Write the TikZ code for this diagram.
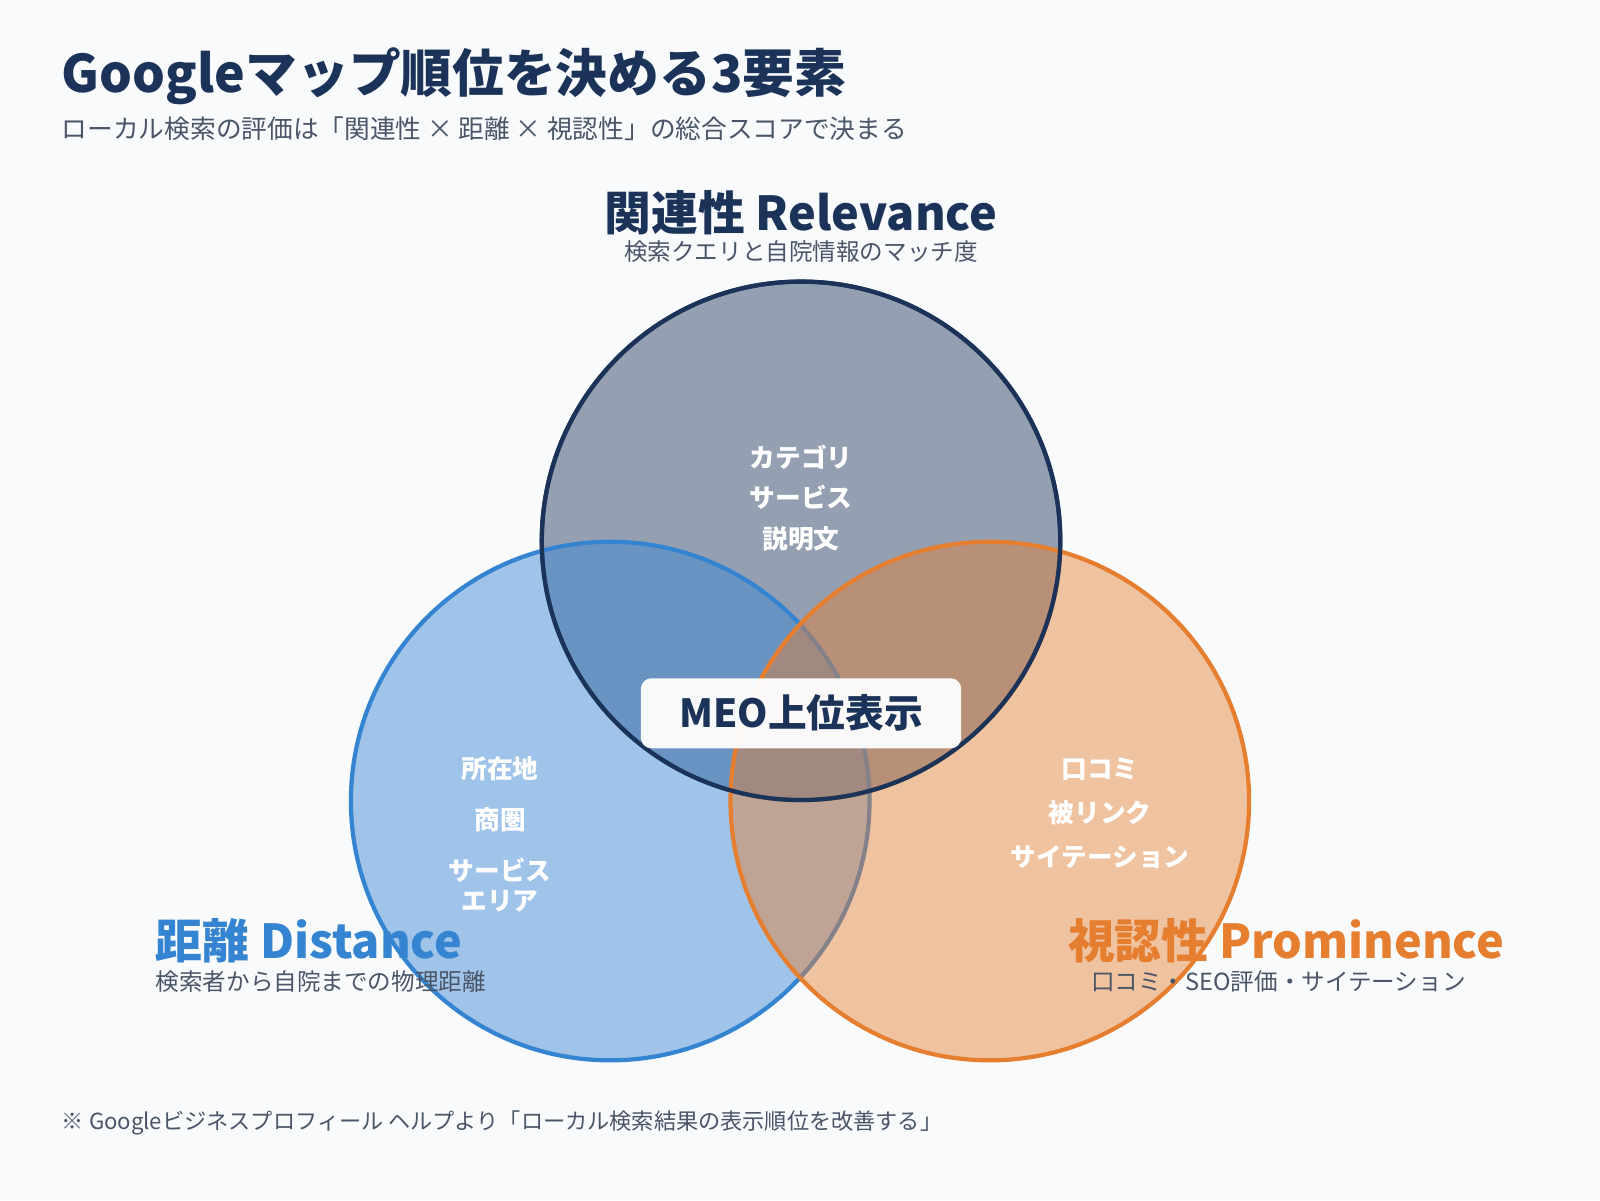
\documentclass[tikz,border=0pt]{standalone}
\usepackage{fontspec}
\setmainfont{Noto Sans CJK JP}
\usetikzlibrary{positioning}
\definecolor{navy}{HTML}{1B3358}
\definecolor{skyblue}{HTML}{3584D2}
\definecolor{orangeC}{HTML}{E67E30}
\definecolor{greytext}{HTML}{4A5568}
\definecolor{bgpaper}{HTML}{F8FAFC}
\tikzset{
    venn/.style={circle, minimum size=5.18cm, line width=1.2pt, fill opacity=0.45},
    headtxt/.style={font=\bfseries\fontsize{13.3}{15}\selectfont, inner sep=0pt},
    subtxt/.style={font=\fontsize{6.7}{8}\selectfont, text=greytext, inner sep=0pt},
    intxt/.style={font=\bfseries\fontsize{7.3}{11.5}\selectfont, text=white, align=center, inner sep=0pt}
}
\begin{document}
\begin{tikzpicture}[x=0.0102cm, y=-0.0102cm]
    \fill[bgpaper] (0,0) rectangle (1568,1176);
    \useasboundingbox (0,0) rectangle (1568,1176);
    % title
    \node[anchor=west, inner sep=0pt, text=navy, font=\bfseries\fontsize{14.7}{16}\selectfont] (title) at (60,75) {Googleマップ順位を決める3要素};
    \node[anchor=west, subtxt, font=\fontsize{7.3}{8}\selectfont] (subtitle) at (60,126) {ローカル検索の評価は「関連性 × 距離 × 視認性」の総合スコアで決まる};
    % circles
    \node[venn, draw=navy, fill=navy] (rel) at (785,530) {};
    \node[venn, draw=skyblue, fill=skyblue] (dist) at (598,785) {};
    \node[venn, draw=orangeC, fill=orangeC] (prom) at (970,785) {};
    \draw[navy, line width=1.2pt] (rel) circle (254);
    % headings
    \node[headtxt, text=navy] (relhead) at (785,208) {関連性 Relevance};
    \node[subtxt] (relsub) at (785,247) {検索クエリと自院情報のマッチ度};
    \node[headtxt, text=skyblue, anchor=west] (disthead) at (152,922) {距離 Distance};
    \node[subtxt, anchor=west] (distsub) at (152,962) {検索者から自院までの物理距離};
    \node[headtxt, text=orangeC, anchor=east] (promhead) at (1475,922) {視認性 Prominence};
    \node[subtxt, anchor=east] (promsub) at (1437,962) {口コミ・SEO評価・サイテーション};
    % inner texts
    \node[intxt] (relin) at (785,488) {カテゴリ\\サービス\\説明文};
    \node[intxt] (distin) at (490,818) {所在地\\[3pt]商圏\\[3pt]サービス\\[-3pt]エリア};
    \node[intxt] (promin) at (1078,797) {口コミ\\[1pt]被リンク\\[1pt]サイテーション};
    % centre
    \node[fill=white, fill opacity=0.95, text opacity=1, rounded corners=3pt, minimum width=3.2cm, minimum height=0.7cm, text=navy, font=\bfseries\fontsize{11}{12}\selectfont] (meo) at (785,699) {MEO上位表示};
    % footer
    \node[anchor=west, subtxt, font=\fontsize{6.3}{7}\selectfont] (foot) at (60,1100) {※ Googleビジネスプロフィール ヘルプより「ローカル検索結果の表示順位を改善する」};
\end{tikzpicture}
\end{document}
